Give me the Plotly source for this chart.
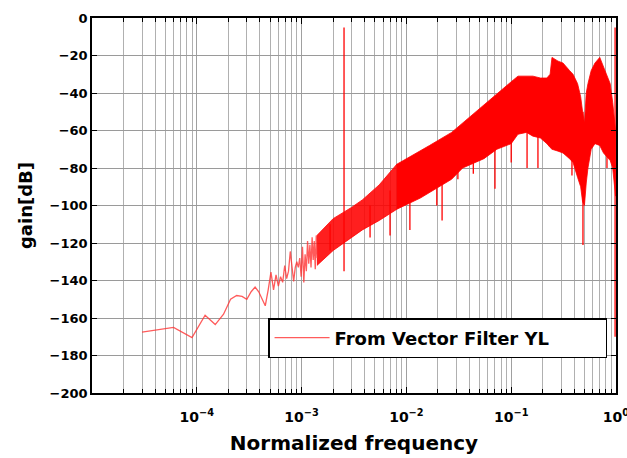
import plotly.graph_objects as go

# ---------------- data ----------------
# sparse low-frequency FFT bins (normalized frequency, gain dB)
f_low = [3.0e-5, 6.0e-5, 9.0e-5, 1.2e-4, 1.5e-4, 1.8e-4, 2.1e-4, 2.4e-4, 2.7e-4, 3.0e-4,
         3.3e-4, 3.6e-4, 3.9e-4, 4.2e-4, 4.5e-4, 4.8e-4, 5.1e-4, 5.4e-4, 5.7e-4, 6.0e-4,
         6.3e-4, 6.6e-4, 6.9e-4, 7.2e-4, 7.5e-4, 7.8e-4, 8.1e-4, 8.4e-4, 8.7e-4, 9.0e-4,
         9.3e-4, 9.6e-4, 9.9e-4, 1.02e-3, 1.05e-3, 1.08e-3, 1.11e-3, 1.14e-3, 1.17e-3,
         1.20e-3, 1.23e-3, 1.26e-3, 1.29e-3, 1.32e-3, 1.35e-3, 1.38e-3, 1.41e-3]
g_low = [-167.5, -165, -170.5, -158.5, -163.5, -158, -150, -148, -148.5, -150,
         -146, -143.5, -146, -150, -153.5, -145, -135.5, -145, -137, -143,
         -138, -141, -132, -139, -135, -124.5, -135, -140.5, -133, -130,
         -133, -128, -138, -122, -141, -126, -135, -119, -131,
         -121, -133, -117, -129, -119, -134, -116, -128]

# envelope of the dense part of the response (upper / lower edge of the red band)
env_f = [1.4e-3, 2.0e-3, 3.0e-3, 3.8e-3, 5.5e-3, 8.1e-3, 1.36e-2, 1.66e-2, 2.7e-2, 3.44e-2,
         5.5e-2, 7.3e-2, 0.10, 0.116, 0.14, 0.161, 0.19, 0.219, 0.235, 0.245,
         0.28, 0.312, 0.36, 0.389, 0.43, 0.46, 0.48, 0.50, 0.52, 0.54,
         0.58, 0.63, 0.70, 0.76, 0.82, 0.88, 0.93, 0.97, 0.99]
env_hi = [-116, -107, -101, -97, -89, -78, -71, -68, -61, -56,
          -46, -40, -34, -31, -31, -31, -32, -32, -30, -21,
          -23, -24, -28, -30, -35, -42, -50, -56, -40, -35,
          -28, -24, -21, -26, -30, -35, -45, -55, -60]
env_lo = [-132, -124, -117, -113, -108, -102, -96, -93, -86, -80,
          -75, -70, -67, -62, -61, -63, -64, -67, -69, -70,
          -71, -72, -75, -77, -85, -90, -98, -100, -88, -80,
          -70, -67, -68, -72, -74, -76, -80, -90, -95]
split_f = 1.0e-2  # where the band becomes fully saturated

# isolated spikes: frequency, top, bottom
spike_f = [1.87e-3, 2.54e-3, 4.5e-3, 6.98e-3, 1.08e-2, 1.95e-2, 2.19e-2, 3.1e-2, 4.35e-2,
           7.0e-2, 0.10, 0.1417, 0.180, 0.38, 0.484, 0.82, 0.98]
spike_top = [-110, -5, -100, -92, -82, -70, -70, -62, -58,
             -48, -40, -35, -35, -32, -50, -35, -5]
spike_bot = [-124, -135, -117, -116, -113, -100, -108, -86, -83,
             -91, -77, -80, -80, -84, -121, -80, -170]

# axis ticks
x_major_vals = [1e-4, 1e-3, 1e-2, 1e-1, 1.0]
x_major_text = ["10<sup>−4</sup>", "10<sup>−3</sup>", "10<sup>−2</sup>",
                "10<sup>−1</sup>", "10<sup>0</sup>"]
x_decades = [-5, -4, -3, -2, -1]
y_ticks = [-200, -180, -160, -140, -120, -100, -80, -60, -40, -20, 0]

series_name = "From Vector Filter YL"
RED = "#ff0000"

# ---------------- figure ----------------
fig = go.Figure()

# dense band: split into a slightly lighter (semi-dense) part and a saturated part
idx_a = [i for i, f in enumerate(env_f) if f <= split_f * 1.0001]
idx_b = [i for i, f in enumerate(env_f) if f >= env_f[idx_a[-1]]]
for idx, fc in ((idx_a, "rgba(255,0,0,0.88)"), (idx_b, RED)):
    xs = [env_f[i] for i in idx]
    hi = [env_hi[i] for i in idx]
    lo = [env_lo[i] for i in idx]
    fig.add_trace(go.Scatter(x=xs + xs[::-1], y=hi + lo[::-1], mode="lines",
                             fill="toself", fillcolor=fc,
                             line=dict(color=RED, width=0.8),
                             showlegend=False, hoverinfo="skip"))

# spikes
sx, sy = [], []
for f, t, b in zip(spike_f, spike_top, spike_bot):
    sx += [f, f, None]
    sy += [t, b, None]
fig.add_trace(go.Scatter(x=sx, y=sy, mode="lines", line=dict(color=RED, width=1.3),
                         showlegend=False, hoverinfo="skip"))

# low-frequency line (carries the legend entry)
fig.add_trace(go.Scatter(x=f_low, y=g_low, mode="lines", name=series_name,
                         line=dict(color="rgba(255,50,50,0.8)", width=1.3)))

minor_vals = [k * 10.0 ** d for d in x_decades for k in range(2, 10)]

font_family = "DejaVu Sans"
fig.update_layout(
    width=627, height=458,
    margin=dict(l=92, r=11, t=18, b=65, autoexpand=False),
    paper_bgcolor="white", plot_bgcolor="white",
    font=dict(family=font_family, color="black"),
    showlegend=True,
    legend=dict(x=0.336, y=0.2, xanchor="left", yanchor="top",
                orientation="h",
                bgcolor="white", bordercolor="black", borderwidth=1.5,
                font=dict(family=font_family, size=18, color="black", weight="bold"),
                itemwidth=55, entrywidth=266, entrywidthmode="pixels"),
)
fig.update_xaxes(
    type="log", range=[-5, 0], automargin=False,
    tickmode="array", tickvals=x_major_vals, ticktext=x_major_text,
    ticklabeloverflow="allow",
    ticks="inside", ticklen=6, tickcolor="black", tickwidth=1,
    ticklabelstandoff=10,
    showgrid=True, gridcolor="#a0a0a0", gridwidth=1,
    minor=dict(tickmode="array", tickvals=minor_vals, ticks="inside", ticklen=4,
               tickcolor="black", showgrid=True, gridcolor="#b0b0b0", gridwidth=1),
    showline=True, linecolor="black", linewidth=1.5, mirror="ticks",
    tickfont=dict(family=font_family, size=14, color="black", weight="bold"),
    title=dict(text="Normalized frequency",
               font=dict(family=font_family, size=20, color="black", weight="bold"),
               standoff=12),
    zeroline=False,
)
fig.update_yaxes(
    range=[-200, 0], tickmode="array", tickvals=y_ticks, automargin=False,
    ticks="inside", ticklen=5, tickcolor="black", tickwidth=1,
    showgrid=True, gridcolor="#9a9a9a", gridwidth=1,
    showline=True, linecolor="black", linewidth=1.5, mirror="ticks",
    tickfont=dict(family=font_family, size=13, color="black", weight="bold"),
    title=dict(text="gain[dB]",
               font=dict(family=font_family, size=18, color="black", weight="bold"),
               standoff=12),
    zeroline=False,
)

fig.write_html("out.html")
